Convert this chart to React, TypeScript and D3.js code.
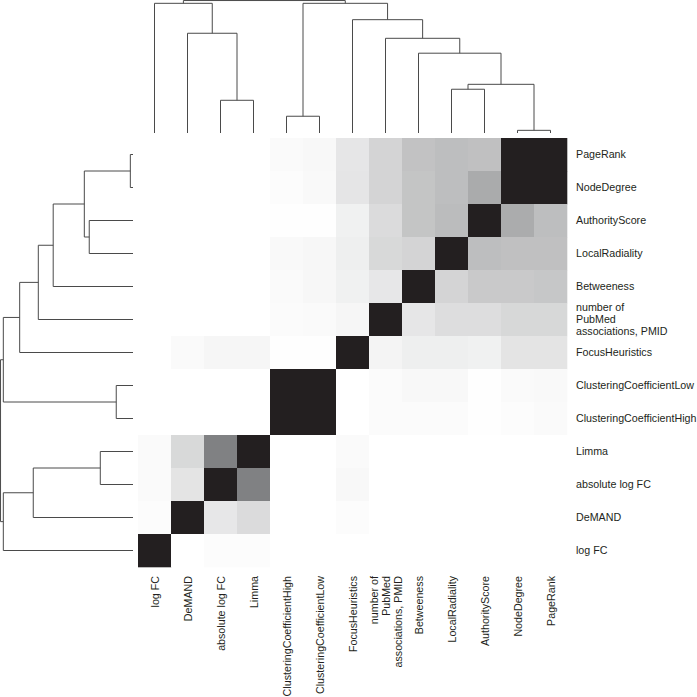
import React, { useEffect, useRef } from 'react';
import * as d3 from 'd3';

// leaf order, left to right on the columns (rows use the reverse)
const leaves: string[] = [
  'log FC',
  'DeMAND',
  'absolute log FC',
  'Limma',
  'ClusteringCoefficientHigh',
  'ClusteringCoefficientLow',
  'FocusHeuristics',
  'number of|PubMed|associations, PMID',
  'Betweeness',
  'LocalRadiality',
  'AuthorityScore',
  'NodeDegree',
  'PageRank',
];

// row order, top to bottom
const rowNames: string[] = [...leaves].reverse();

// similarity values, one array per row (top to bottom), columns in leaf order
const rowPageRank = [0, 0, 0, 0, 0.023, 0.03, 0.11, 0.19, 0.27, 0.29, 0.28, 1, 1];
const rowNodeDegree = [0, 0, 0, 0, 0.014, 0.027, 0.115, 0.19, 0.26, 0.29, 0.375, 1, 1];
const rowAuthority = [0, 0, 0, 0, 0.005, 0.005, 0.064, 0.16, 0.26, 0.3, 1, 0.37, 0.29];
const rowLocalRad = [0, 0, 0, 0, 0.027, 0.036, 0.073, 0.17, 0.19, 1, 0.29, 0.28, 0.28];
const rowBetweeness = [0, 0, 0, 0, 0.023, 0.036, 0.064, 0.105, 1, 0.19, 0.24, 0.24, 0.25];
const rowPMID = [0, 0, 0, 0, 0.018, 0.023, 0.04, 1, 0.11, 0.15, 0.15, 0.175, 0.175];
const rowFocus = [0, 0.023, 0.04, 0.04, 0.005, 0.005, 1, 0.05, 0.073, 0.073, 0.064, 0.12, 0.12];
const rowCCLow = [0, 0, 0, 0, 1, 1, 0, 0.018, 0.03, 0.03, 0.005, 0.023, 0.027];
const rowCCHigh = [0, 0, 0, 0, 1, 1, 0, 0.018, 0.018, 0.018, 0.005, 0.014, 0.023];
const rowLimma = [0.023, 0.17, 0.56, 1, 0, 0, 0.023, 0, 0, 0, 0, 0, 0];
const rowAbsLogFC = [0.023, 0.12, 1, 0.56, 0, 0, 0.03, 0, 0, 0, 0, 0, 0];
const rowDeMAND = [0.014, 1, 0.105, 0.16, 0, 0, 0.014, 0, 0, 0, 0, 0, 0];
const rowLogFC = [1, 0, 0.014, 0.014, 0, 0, 0, 0, 0, 0, 0, 0, 0];

const matrix: number[][] = [
  rowPageRank,
  rowNodeDegree,
  rowAuthority,
  rowLocalRad,
  rowBetweeness,
  rowPMID,
  rowFocus,
  rowCCLow,
  rowCCHigh,
  rowLimma,
  rowAbsLogFC,
  rowDeMAND,
  rowLogFC,
];

// hierarchical clustering merges: [left, right, height]; numbers point to earlier merges
type Ref = string | number;
const merges: [Ref, Ref, number][] = [
  ['NodeDegree', 'PageRank', 0.02], // 0
  ['ClusteringCoefficientHigh', 'ClusteringCoefficientLow', 0.126], // 1
  ['absolute log FC', 'Limma', 0.246], // 2
  ['LocalRadiality', 'AuthorityScore', 0.329], // 3
  [3, 0, 0.366], // 4
  ['Betweeness', 4, 0.6], // 5
  ['number of|PubMed|associations, PMID', 5, 0.712], // 6
  ['DeMAND', 2, 0.75], // 7
  ['FocusHeuristics', 6, 0.852], // 8
  ['log FC', 7, 0.975], // 9
  [1, 8, 0.975], // 10
  [9, 10, 0.996], // 11
];

const App: React.FC = () => {
  const svgRef = useRef<SVGSVGElement>(null);

  useEffect(() => {
    if (!svgRef.current) return;
    const svg = d3.select(svgRef.current);
    svg.selectAll('*').remove();

    const x0 = 138;
    const y0 = 138;
    const size = 429;
    const font = '"Liberation Sans", Arial, Helvetica, sans-serif';
    const ink = '#231f20';

    const x = d3.scaleBand<string>().domain(leaves).range([x0, x0 + size]);
    const y = d3.scaleBand<string>().domain(rowNames).range([y0, y0 + size]);
    const color = d3
      .scaleLinear<string>()
      .domain([0, 0.56, 1])
      .range(['#ffffff', '#808183', ink])
      .clamp(true);

    // heatmap cells
    const cells = svg.append('g');
    matrix.forEach((row, i) => {
      row.forEach((v, j) => {
        cells
          .append('rect')
          .attr('x', x(leaves[j])!)
          .attr('y', y(rowNames[i])!)
          .attr('width', x.bandwidth() + 0.3)
          .attr('height', y.bandwidth() + 0.3)
          .attr('fill', color(v));
      });
    });

    // dendrograms
    const hCol = d3.scaleLinear().domain([0, 1]).range([133, 0]);
    const hRow = d3.scaleLinear().domain([0, 1]).range([133, 0]);

    const drawTree = (
      pos: (name: string) => number,
      hs: d3.ScaleLinear<number, number>,
      vertical: boolean
    ) => {
      const nodes: { p: number; h: number }[] = [];
      const get = (r: Ref) =>
        typeof r === 'number' ? nodes[r] : { p: pos(r), h: 0 };
      const g = svg.append('g').attr('fill', 'none').attr('stroke', '#4a4a4a').attr('stroke-width', 1);
      merges.forEach(([a, b, h]) => {
        const na = get(a);
        const nb = get(b);
        const path = d3.path();
        if (vertical) {
          path.moveTo(na.p, hs(na.h));
          path.lineTo(na.p, hs(h));
          path.lineTo(nb.p, hs(h));
          path.lineTo(nb.p, hs(nb.h));
        } else {
          path.moveTo(hs(na.h), na.p);
          path.lineTo(hs(h), na.p);
          path.lineTo(hs(h), nb.p);
          path.lineTo(hs(nb.h), nb.p);
        }
        g.append('path').attr('d', path.toString());
        nodes.push({ p: (na.p + nb.p) / 2, h });
      });
    };

    drawTree((n) => x(n)! + x.bandwidth() / 2, hCol, true);
    drawTree((n) => y(n)! + y.bandwidth() / 2, hRow, false);

    // row labels
    const fs = 10.7;
    const lineGap = 12.2;
    rowNames.forEach((name) => {
      const lines = name.split('|');
      const cy = y(name)! + y.bandwidth() / 2;
      const t = svg
        .append('text')
        .attr('font-family', font)
        .attr('font-size', fs)
        .attr('fill', ink);
      lines.forEach((ln, k) => {
        t.append('tspan')
          .attr('x', 576)
          .attr('y', cy + (k - (lines.length - 1) / 2) * lineGap)
          .attr('dy', '0.35em')
          .text(ln);
      });
    });

    // column labels
    leaves.forEach((name) => {
      const lines = name.split('|');
      const cx = x(name)! + x.bandwidth() / 2;
      lines.forEach((ln, k) => {
        const lx = cx + (k - (lines.length - 1) / 2) * lineGap;
        svg
          .append('text')
          .attr('transform', `translate(${lx + 1}, 576) rotate(-90)`)
          .attr('text-anchor', 'end')
          .attr('dy', '0.35em')
          .attr('font-family', font)
          .attr('font-size', fs)
          .attr('fill', ink)
          .text(ln);
      });
    });
  }, []);

  return (
    <div style={{ position: 'absolute', left: 0, top: 0 }}>
      <svg ref={svgRef} width={697} height={697} style={{ display: 'block' }}></svg>
    </div>
  );
};

export default App;
